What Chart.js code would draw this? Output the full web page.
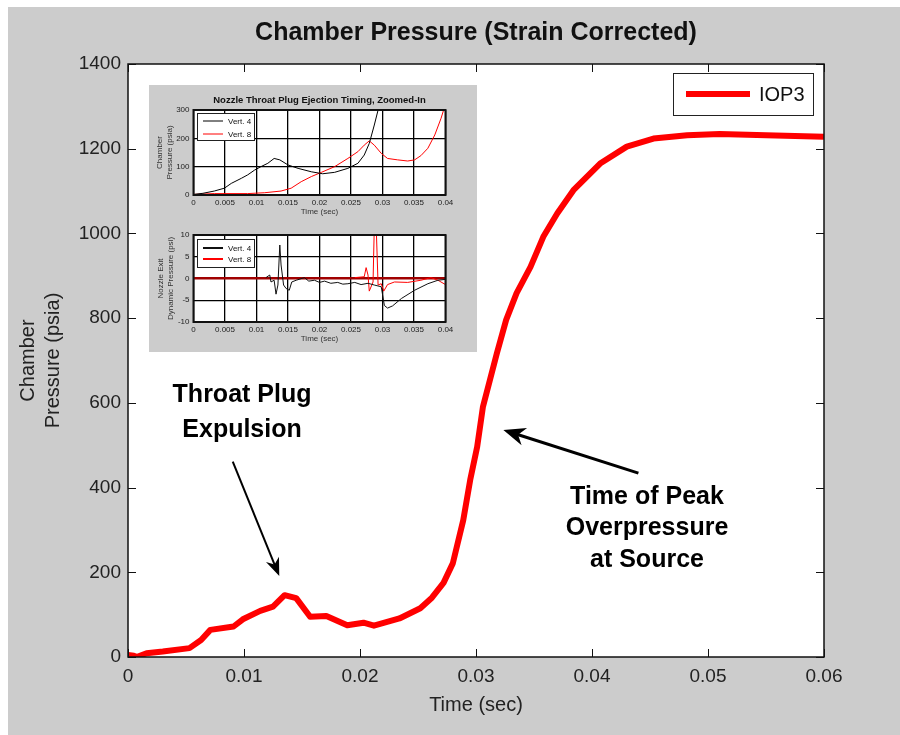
<!DOCTYPE html>
<html>
<head>
<meta charset="utf-8">
<script src="https://cdn.jsdelivr.net/npm/chart.js@4.4.1/dist/chart.umd.min.js"></script>
<style>
	html, body { margin: 0; padding: 0; background: #fff; }
	#wrap { position: relative; width: 900px; height: 735px; }
	canvas { position: absolute; }
	#main { left: 0; top: 0; }
	#inset { position: absolute; left: 149px; top: 85px; width: 328px; height: 267px; background: #cccccc; }
	#top { left: 0; top: 0; }
	#bottom { left: 0; top: 135px; }
</style>
</head>
<body>
<div id="wrap">
	<canvas id="main" width="900" height="735"></canvas>
	<div id="inset">
		<canvas id="top" width="328" height="135"></canvas>
		<canvas id="bottom" width="328" height="132"></canvas>
	</div>
</div>
<script>
// main trace, IOP3
const time = [0, 0.0005, 0.00075, 0.0016, 0.003, 0.0053, 0.0063, 0.0071, 0.0091, 0.0099, 0.0114, 0.0125, 0.0135, 0.0145, 0.0157, 0.0171, 0.0189, 0.0203, 0.0212, 0.0234, 0.0252, 0.0262, 0.0272, 0.028, 0.0289, 0.0295, 0.0301, 0.0306, 0.0312, 0.0318, 0.0326, 0.0335, 0.0347, 0.0358, 0.037, 0.0384, 0.0407, 0.043, 0.0453, 0.0482, 0.051, 0.055, 0.06];
const pressure = [5, 3, 0, 9, 13, 21, 40, 64, 72, 89, 109, 119, 146, 139, 95, 97, 75, 81, 74, 91, 115, 140, 175, 221, 323, 418, 496, 591, 654, 717, 796, 859, 921, 992, 1047, 1102, 1165, 1205, 1224, 1232, 1235, 1232, 1228];
const timeTicks = [0, 0.01, 0.02, 0.03, 0.04, 0.05, 0.06];
const pressureTicks = [0, 200, 400, 600, 800, 1000, 1200, 1400];

// inset, chamber pressure
const chamberTime4 = [0, 0.0015, 0.0033, 0.0049, 0.006, 0.0076, 0.0086, 0.0097, 0.0107, 0.0118, 0.0128, 0.0137, 0.015, 0.0166, 0.0187, 0.0205, 0.0224, 0.0245, 0.0261, 0.0271, 0.0279, 0.0287, 0.0293];
const chamber4 = [2, 6, 14, 24, 41, 59, 71, 88, 100, 112, 129, 124, 106, 94, 82, 75, 80, 94, 112, 141, 182, 247, 300];
const chamberTime8 = [0, 0.0033, 0.0086, 0.0113, 0.0139, 0.0155, 0.0171, 0.0187, 0.0203, 0.0224, 0.0245, 0.0261, 0.0271, 0.0279, 0.0287, 0.0298, 0.0308, 0.0324, 0.034, 0.0351, 0.0361, 0.0372, 0.0383, 0.0393, 0.0397];
const chamber8 = [2, 5, 5, 8, 14, 24, 47, 65, 80, 100, 129, 153, 176, 191, 176, 147, 129, 124, 120, 124, 139, 165, 212, 271, 300];
const chamberTicks = [0, 100, 200, 300];

// inset, nozzle exit dynamic pressure
const exitTime4 = [0.0115, 0.0121, 0.0123, 0.0128, 0.0131, 0.0134, 0.0137, 0.0139, 0.0143, 0.0147, 0.0152, 0.0156, 0.0163, 0.0176, 0.0183, 0.0192, 0.0200, 0.0208, 0.0218, 0.0229, 0.0237, 0.0245, 0.0256, 0.0266, 0.0277, 0.0287, 0.0298, 0.0303, 0.0308, 0.0316, 0.033, 0.0351, 0.0372, 0.0388, 0.04];
const exit4 = [0.2, 0.8, -0.8, -0.4, -3.6, -1.5, 7.7, 3.1, -1.5, -2.3, -2.7, -0.8, -0.4, 0.2, -0.6, -0.4, -0.9, -0.6, -1.1, -0.9, -1.3, -1.2, -0.9, -1.4, -1.1, -1.5, -1.9, -6.2, -6.8, -6.3, -4.6, -2.7, -1.2, -0.4, -0.2];
const exitTime8 = [0.0256, 0.0271, 0.0274, 0.0277, 0.0279, 0.0285, 0.0287, 0.029, 0.0293, 0.0298, 0.0302, 0.0308, 0.0319, 0.034, 0.0361, 0.0377, 0.0388, 0.04];
const exit8 = [0.2, 0.4, 2.5, 0.8, -2.9, -0.8, 12, 12, -1.5, -1.2, -2.9, -1.4, -0.8, -0.9, -0.4, 0.2, -0.4, -1.4];
const exitTicks = [-10, -5, 0, 5, 10];
const insetTimeTicks = [0, 0.005, 0.01, 0.015, 0.02, 0.025, 0.03, 0.035, 0.04];

// annotations, anchored in data units
const notes = [
	{ lines: ['Throat Plug', 'Expulsion'], at: [0.00983, 618], gap: 35 },
	{ lines: ['Time of Peak', 'Overpressure', 'at Source'], at: [0.04474, 378], gap: 31.5 }
];
const arrows = [
	{ from: [0.00903, 461], to: [0.01304, 191], width: 2, head: 18, wing: 7 },
	{ from: [0.044, 434], to: [0.03236, 536], width: 3, head: 22, wing: 9 }
];

const FONT = "'Liberation Sans', Arial, sans-serif";

function points(xs, ys) {
	return xs.map((x, i) => ({ x: x, y: ys[i] }));
}

function fixed_ticks(list) {
	return scale => { scale.ticks = list.map(v => ({ value: v })); };
}

function draw_arrow(ctx, x1, y1, x2, y2, a) {
	let ang = Math.atan2(y2 - y1, x2 - x1),
			cos = Math.cos(ang), sin = Math.sin(ang),
			bx = x2 - cos * a.head, by = y2 - sin * a.head;
	ctx.lineWidth = a.width;
	ctx.beginPath();
	ctx.moveTo(x1, y1);
	ctx.lineTo(x2 - cos * a.head * 0.6, y2 - sin * a.head * 0.6);
	ctx.stroke();
	ctx.beginPath();
	ctx.moveTo(x2, y2);
	ctx.lineTo(bx - sin * a.wing, by + cos * a.wing);
	ctx.lineTo(x2 - cos * a.head * 0.7, y2 - sin * a.head * 0.7);
	ctx.lineTo(bx + sin * a.wing, by - cos * a.wing);
	ctx.closePath();
	ctx.fill();
}

const matlab = {
	id: 'matlab',
	beforeDraw(chart, args, o) {
		let { ctx, chartArea: a } = chart;
		ctx.save();
		if (o.figure) {
			ctx.fillStyle = '#cccccc';
			ctx.fillRect(o.figure[0], o.figure[1], o.figure[2], o.figure[3]);
		}
		ctx.fillStyle = '#fff';
		ctx.fillRect(a.left, a.top, a.width, a.height);
		ctx.restore();
	},
	afterDraw(chart, args, o) {
		let { ctx, chartArea: a, scales } = chart,
				x = scales.x, y = scales.y;
		ctx.save();
		if (o.tickLen) {
			ctx.strokeStyle = '#111';
			ctx.lineWidth = 1;
			ctx.beginPath();
			x.ticks.forEach(t => {
				let px = Math.round(x.getPixelForValue(t.value)) + 0.5;
				ctx.moveTo(px, a.bottom); ctx.lineTo(px, a.bottom - o.tickLen);
				ctx.moveTo(px, a.top); ctx.lineTo(px, a.top + o.tickLen);
			});
			y.ticks.forEach(t => {
				let py = Math.round(y.getPixelForValue(t.value)) + 0.5;
				ctx.moveTo(a.left, py); ctx.lineTo(a.left + o.tickLen, py);
				ctx.moveTo(a.right, py); ctx.lineTo(a.right - o.tickLen, py);
			});
			ctx.stroke();
		}
		ctx.strokeStyle = '#111';
		ctx.lineWidth = o.frame;
		ctx.strokeRect(a.left, a.top, a.width, a.height);

		ctx.fillStyle = '#111';
		ctx.textAlign = 'center';
		ctx.textBaseline = 'middle';
		if (o.title) {
			ctx.font = o.title.font;
			ctx.fillText(o.title.text, (a.left + a.right) / 2, a.top - o.title.offset);
		}
		ctx.fillStyle = o.labelColor || '#111';
		ctx.font = o.labelFont;
		ctx.fillText(o.xLabel.text, (a.left + a.right) / 2, a.bottom + o.xLabel.offset);
		ctx.save();
		ctx.translate(a.left - o.yLabel.offset, (a.top + a.bottom) / 2);
		ctx.rotate(-Math.PI / 2);
		o.yLabel.text.forEach((line, i) => ctx.fillText(line, 0, i * o.yLabel.gap));
		ctx.restore();

		// legend box
		let lg = o.legend,
				lx = lg.left != null ? a.left + lg.left : a.right - lg.right - lg.width,
				ly = a.top + lg.top;
		ctx.fillStyle = '#fff';
		ctx.fillRect(lx, ly, lg.width, lg.height);
		ctx.strokeStyle = '#222';
		ctx.lineWidth = 1;
		ctx.strokeRect(Math.round(lx) + 0.5, Math.round(ly) + 0.5, lg.width, lg.height);
		ctx.font = lg.font;
		ctx.textAlign = 'left';
		chart.data.datasets.filter(d => d.label).forEach((d, i) => {
			let ry = ly + lg.first + i * lg.row;
			ctx.strokeStyle = d.borderColor;
			ctx.lineWidth = lg.lineWidth;
			ctx.beginPath();
			ctx.moveTo(lx + lg.pad, ry);
			ctx.lineTo(lx + lg.pad + lg.line, ry);
			ctx.stroke();
			ctx.fillStyle = '#111';
			ctx.fillText(d.label, lx + lg.pad + lg.line + lg.gap, ry + 1);
		});

		if (o.notes) {
			ctx.fillStyle = '#000';
			ctx.strokeStyle = '#000';
			ctx.textAlign = 'center';
			ctx.font = o.notesFont;
			notes.forEach(n => {
				let nx = x.getPixelForValue(n.at[0]), ny = y.getPixelForValue(n.at[1]);
				n.lines.forEach((line, i) => ctx.fillText(line, nx, ny + i * n.gap));
			});
			arrows.forEach(ar => {
				draw_arrow(ctx,
					x.getPixelForValue(ar.from[0]), y.getPixelForValue(ar.from[1]),
					x.getPixelForValue(ar.to[0]), y.getPixelForValue(ar.to[1]), ar);
			});
		}
		ctx.restore();
	}
};

function fmt(v) {
	return v === 0 ? '0' : String(v);
}

// main chart
new Chart(document.getElementById('main'), {
	type: 'line',
	plugins: [matlab],
	data: {
		datasets: [{
			label: 'IOP3',
			data: points(time, pressure),
			borderColor: '#ff0000',
			borderWidth: 6,
			borderJoinStyle: 'round',
			pointRadius: 0,
			tension: 0
		}]
	},
	options: {
		responsive: false,
		animation: false,
		events: [],
		layout: { padding: { left: 8, right: 76, top: 64, bottom: 0 } },
		scales: {
			x: {
				type: 'linear', min: 0, max: 0.06,
				afterBuildTicks: fixed_ticks(timeTicks),
				afterFit: s => { s.height = 78; },
				grid: { display: false, drawTicks: false },
				border: { display: false },
				ticks: {
					padding: 8, color: '#222', maxRotation: 0,
					font: { family: FONT, size: 19 },
					callback: v => v === 0 ? '0' : v.toFixed(2)
				}
			},
			y: {
				type: 'linear', min: 0, max: 1400,
				afterBuildTicks: fixed_ticks(pressureTicks),
				afterFit: s => { s.width = 120; },
				grid: { display: false, drawTicks: false },
				border: { display: false },
				ticks: { padding: 7, color: '#222', font: { family: FONT, size: 19 }, callback: fmt }
			}
		},
		plugins: {
			legend: { display: false },
			title: { display: false },
			tooltip: { enabled: false },
			matlab: {
				figure: [8, 7, 892, 728],
				tickLen: 8,
				frame: 1.5,
				title: { text: 'Chamber Pressure (Strain Corrected)', font: 'bold 25px ' + FONT, offset: 31 },
				labelFont: '20px ' + FONT,
				labelColor: '#222',
				xLabel: { text: 'Time (sec)', offset: 48 },
				yLabel: { text: ['Chamber', 'Pressure (psia)'], offset: 100, gap: 25 },
				legend: { right: 11, top: 9, width: 140, height: 42, first: 21, row: 0, pad: 13, line: 64, gap: 9, lineWidth: 6, font: '20px ' + FONT },
				notes: true,
				notesFont: 'bold 25px ' + FONT
			}
		}
	}
});

function inset_chart(id, sets, yMin, yMax, yTicks, area, extra) {
	return new Chart(document.getElementById(id), {
		type: 'line',
		plugins: [matlab],
		data: { datasets: sets },
		options: {
			responsive: false,
			animation: false,
			events: [],
			layout: { padding: { left: 0, right: area.right, top: area.top, bottom: 0 } },
			scales: {
				x: {
					type: 'linear', min: 0, max: 0.04,
					afterBuildTicks: fixed_ticks(insetTimeTicks),
					afterFit: s => { s.height = area.bottom; },
					grid: { color: '#000', lineWidth: 1.3, drawTicks: false },
					border: { display: false },
					ticks: { padding: 3, color: '#222', maxRotation: 0, autoSkip: false, font: { family: FONT, size: 8 }, callback: fmt }
				},
				y: {
					type: 'linear', min: yMin, max: yMax,
					afterBuildTicks: fixed_ticks(yTicks),
					afterFit: s => { s.width = 44.5; },
					grid: {
						color: c => c.tick && c.tick.value === 0 && extra.zeroLine ? '#a00000' : '#000',
						lineWidth: c => c.tick && c.tick.value === 0 && extra.zeroLine ? 2.5 : 1.3,
						drawTicks: false
					},
					border: { display: false },
					ticks: { padding: 4, color: '#222', font: { family: FONT, size: 8 }, callback: fmt }
				}
			},
			plugins: {
				legend: { display: false },
				title: { display: false },
				tooltip: { enabled: false },
				matlab: Object.assign({
					frame: 2,
					labelFont: '8px ' + FONT,
					labelColor: '#333',
					xLabel: { text: 'Time (sec)', offset: 17 }
				}, extra.opts)
			}
		}
	});
}

inset_chart('top', [
	{ label: 'Vert. 4', data: points(chamberTime4, chamber4), borderColor: '#000', borderWidth: 1, pointRadius: 0, tension: 0 },
	{ label: 'Vert. 8', data: points(chamberTime8, chamber8), borderColor: '#ff0000', borderWidth: 1, pointRadius: 0, tension: 0 }
], 0, 300, chamberTicks, { right: 31.5, top: 25, bottom: 25 }, {
	zeroLine: false,
	opts: {
		title: { text: 'Nozzle Throat Plug Ejection Timing, Zoomed-In', font: 'bold 9.5px ' + FONT, offset: 10 },
		yLabel: { text: ['Chamber', 'Pressure (psia)'], offset: 34, gap: 10 },
		legend: { left: 3.5, top: 3, width: 57, height: 27, first: 8, row: 13, pad: 6, line: 20, gap: 5, lineWidth: 1, font: '8px ' + FONT }
	}
});

inset_chart('bottom', [
	{ label: 'Vert. 4', data: points(exitTime4, exit4), borderColor: '#111', borderWidth: 1, pointRadius: 0, tension: 0 },
	{ label: 'Vert. 8', data: points(exitTime8, exit8), borderColor: '#ff0000', borderWidth: 1, pointRadius: 0, tension: 0 }
], -10, 10, exitTicks, { right: 31.5, top: 15, bottom: 30 }, {
	zeroLine: true,
	opts: {
		yLabel: { text: ['Nozzle Exit', 'Dynamic Pressure (psi)'], offset: 33, gap: 10 },
		legend: { left: 3.5, top: 4, width: 57, height: 28, first: 9, row: 11, pad: 6, line: 20, gap: 5, lineWidth: 2, font: '8px ' + FONT }
	}
});
</script>
</body>
</html>
